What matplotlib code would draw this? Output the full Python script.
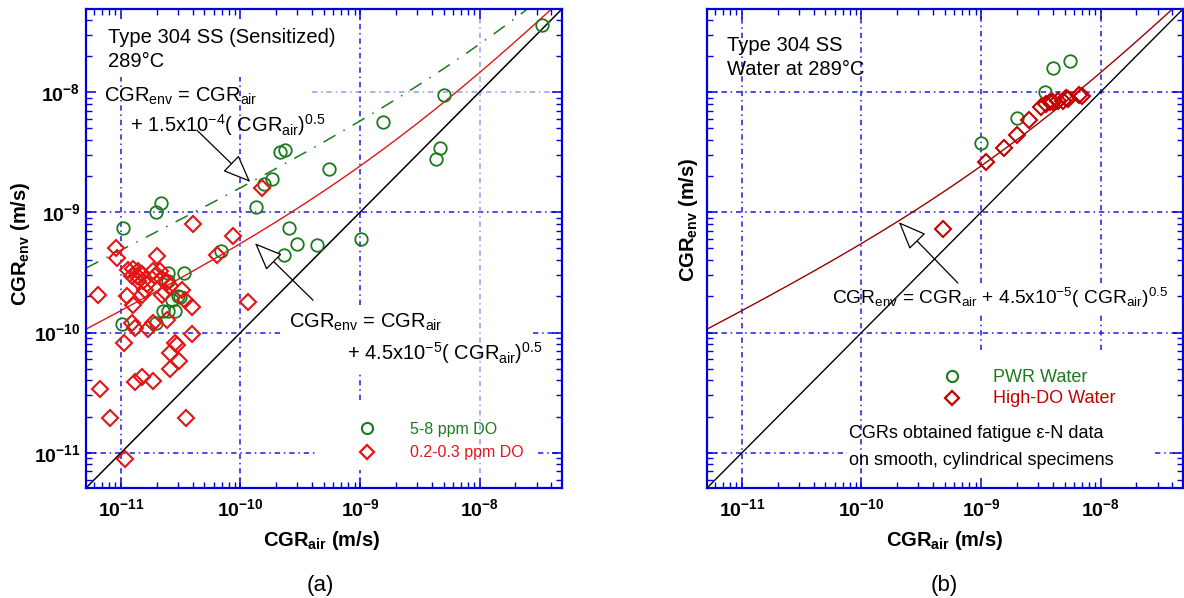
import numpy as np
import matplotlib
matplotlib.use("Agg")
import matplotlib.pyplot as plt
from matplotlib.ticker import FixedLocator, FixedFormatter, LogLocator, NullFormatter

plt.rcParams['font.family'] = ['Liberation Sans', 'DejaVu Sans']
plt.rcParams['mathtext.fontset'] = 'custom'
plt.rcParams['mathtext.rm'] = 'Liberation Sans'
plt.rcParams['mathtext.it'] = 'Liberation Sans:italic'
plt.rcParams['mathtext.bf'] = 'Liberation Sans:bold'

# ---------------- data ----------------
# (a) Type 304 SS (Sensitized), 289C
do58_air = [3.35e-8, 5.0e-9, 1.57e-9, 4.7e-9, 4.3e-9, 2.13e-10, 2.34e-10, 5.47e-10,
            1.82e-10, 1.57e-10, 1.34e-10, 2.53e-10, 2.95e-10, 4.34e-10, 2.3e-10, 1.01e-9,
            2.16e-11, 1.96e-11, 1.04e-11, 6.85e-11, 2.47e-11, 3.36e-11, 2.99e-11, 2.67e-11,
            2.24e-11, 2.47e-11, 2.83e-11, 1.96e-11, 1.02e-11, 2.47e-11, 3.11e-11]
do58_env = [3.6e-8, 9.4e-9, 5.6e-9, 3.4e-9, 2.77e-9, 3.2e-9, 3.3e-9, 2.28e-9,
            1.88e-9, 1.71e-9, 1.1e-9, 7.35e-10, 5.5e-10, 5.3e-10, 4.38e-10, 5.96e-10,
            1.19e-9, 1.0e-9, 7.35e-10, 4.73e-10, 3.1e-10, 3.1e-10, 2.0e-10, 1.88e-10,
            1.5e-10, 1.5e-10, 1.5e-10, 1.21e-10, 1.17e-10, 2.66e-10, 1.96e-10]
do02_air = [1.51e-10, 8.6e-11, 4.0e-11, 6.34e-11, 9.1e-12, 9.2e-12, 2.0e-11, 6.4e-12,
            1.12e-11, 1.26e-11, 1.14e-11, 1.26e-11, 1.39e-11, 1.24e-11, 1.36e-11, 1.5e-11,
            1.53e-11, 1.39e-11, 1.65e-11, 1.59e-11, 1.5e-11, 1.85e-11, 1.92e-11, 2.12e-11,
            2.2e-11, 2.42e-11, 2.57e-11, 2.33e-11, 2.2e-11, 3.23e-11, 3.43e-11, 3.92e-11,
            1.24e-11, 1.31e-11, 1.68e-11, 1.85e-11, 2.42e-11, 3.92e-11, 1.06e-11, 2.83e-11,
            2.94e-11, 2.57e-11, 3.05e-11, 2.57e-11, 1.5e-11, 1.31e-11, 1.85e-11, 6.7e-12,
            8.1e-12, 3.49e-11, 1.08e-11, 1.15e-10]
do02_env = [1.58e-9, 6.3e-10, 7.94e-10, 4.38e-10, 5.0e-10, 4.14e-10, 4.3e-10, 2.07e-10,
            2.0e-10, 1.68e-10, 3.29e-10, 3.35e-10, 3.22e-10, 2.93e-10, 2.93e-10, 3.04e-10,
            2.66e-10, 2.66e-10, 2.51e-10, 2.28e-10, 2.07e-10, 3.22e-10, 2.93e-10, 3.22e-10,
            2.77e-10, 2.61e-10, 2.42e-10, 2.16e-10, 2.07e-10, 2.28e-10, 1.88e-10, 1.62e-10,
            1.21e-10, 1.1e-10, 1.08e-10, 1.21e-10, 1.28e-10, 9.8e-11, 8.25e-11, 8.25e-11,
            7.94e-11, 6.8e-11, 5.85e-11, 5.0e-11, 4.3e-11, 3.9e-11, 3.98e-11, 3.4e-11,
            1.96e-11, 1.96e-11, 8.9e-12, 1.81e-10]

# (b) Type 304 SS, water at 289C (fatigue e-N data)
pwr_air = [5.52e-9, 3.98e-9, 3.41e-9, 2.0e-9, 1.0e-9]
pwr_env = [1.81e-8, 1.58e-8, 1.0e-8, 6.07e-9, 3.76e-9]
hdo_air = [4.82e-10, 1.1e-9, 1.55e-9, 2.0e-9, 2.51e-9, 3.16e-9, 3.48e-9, 3.76e-9,
           3.98e-9, 4.38e-9, 4.82e-9, 5.1e-9, 5.3e-9, 6.56e-9, 6.95e-9]
hdo_env = [7.2e-10, 2.61e-9, 3.42e-9, 4.38e-9, 5.84e-9, 7.5e-9, 7.94e-9, 8.25e-9,
           8.25e-9, 8.4e-9, 8.5e-9, 8.9e-9, 8.75e-9, 9.44e-9, 9.26e-9]

coef_high = 1.5e-4
coef_low = 4.5e-5
decades = [1e-11, 1e-10, 1e-9, 1e-8]
decade_labels = [r'$\mathbf{10^{-11}}$', r'$\mathbf{10^{-10}}$', r'$\mathbf{10^{-9}}$', r'$\mathbf{10^{-8}}$']
lims = (5.1e-12, 4.9e-8)

# ---------------- styles ----------------
BLUE = '#0000dd'
GRID = '#1a1aee'
LGRID = '#9a9aee'
GREEN = '#1b7a1b'
RED = '#e31515'
DRED = '#c40000'

fig = plt.figure(figsize=(11.84, 5.98), dpi=100)
W, H = 1184, 598
axA = fig.add_axes([86 / W, (598 - 488) / H, 476 / W, 479 / H])
axB = fig.add_axes([707 / W, (598 - 488) / H, 476 / W, 479 / H])


def style_axes(ax, ylabels=True):
    ax.set_xscale('log')
    ax.set_yscale('log')
    ax.set_xlim(*lims)
    ax.set_ylim(*lims)
    for sp in ax.spines.values():
        sp.set_color(BLUE)
        sp.set_linewidth(1.6)
    for axis in (ax.xaxis, ax.yaxis):
        axis.set_major_locator(FixedLocator(decades))
        axis.set_major_formatter(FixedFormatter(decade_labels))
        axis.set_minor_locator(LogLocator(base=10, subs=np.arange(2, 10)))
        axis.set_minor_formatter(NullFormatter())
    ax.tick_params(which='both', direction='in', top=True, right=True, color=BLUE)
    ax.tick_params(which='major', length=7, width=1.1)
    ax.tick_params(which='minor', length=4.5, width=1.0)
    ax.tick_params(axis='x', which='major', labelsize=14, pad=7)
    ax.tick_params(axis='y', which='major', labelsize=14, pad=4, labelleft=ylabels)
    ax.set_xlabel(r'CGR$_{\mathbf{air}}$ (m/s)', fontsize=14.5, fontweight='bold')
    ax.set_ylabel(r'CGR$_{\mathbf{env}}$ (m/s)', fontsize=14.5, fontweight='bold')


def gridlines(ax, hsegs, vsegs):
    kw = dict(linestyle=(0, (3.5, 2.5, 1, 2.5)), linewidth=1.1, zorder=1)
    for val, segs, col in hsegs:
        for a, b in segs:
            ax.axhline(val, xmin=a, xmax=b, color=col, **kw)
    for val, segs, col in vsegs:
        for a, b in segs:
            ax.axvline(val, ymin=a, ymax=b, color=col, **kw)


style_axes(axA, True)
style_axes(axB, False)
axA.xaxis.set_label_coords(0.496, -0.085)
axB.xaxis.set_label_coords(0.50, -0.085)
axA.yaxis.set_label_coords(-0.113, 0.51)
axB.yaxis.set_label_coords(-0.015, 0.56)

# grids (a)
gridlines(axA,
          [(1e-8, [(0.475, 1)], LGRID), (1e-9, [(0, 1)], GRID),
           (1e-10, [(0, 0.412), (0.939, 1)], GRID), (1e-11, [(0, 0.481), (0.95, 1)], GRID)],
          [(1e-11, [(0, 0.858)], GRID), (1e-10, [(0, 0.858)], GRID),
           (1e-9, [(0.382, 1), (0.184, 0.242), (0, 0.038)], GRID), (1e-8, [(0, 1)], LGRID)])
# grids (b)
gridlines(axB,
          [(1e-8, [(0, 1)], GRID), (1e-9, [(0, 1)], GRID),
           (1e-10, [(0, 1)], GRID), (1e-11, [(0, 0.294), (0.941, 1)], GRID)],
          [(1e-11, [(0, 1)], GRID), (1e-10, [(0, 1)], GRID),
           (1e-9, [(0.428, 1), (0.288, 0.365)], GRID), (1e-8, [(0.428, 1), (0.288, 0.365)], GRID)])

xx = np.logspace(np.log10(lims[0]), np.log10(lims[1]), 400)

# (a) curves
axA.plot(xx, xx, color='black', lw=1.1, zorder=2)
axA.plot(xx, xx + coef_low * np.sqrt(xx), color=RED, lw=1.0, zorder=2)
axA.plot(xx, xx + coef_high * np.sqrt(xx), color=GREEN, lw=1.1,
         linestyle=(0, (9, 6, 1, 6)), zorder=2)
axA.plot(do58_air, do58_env, 'o', ms=9, mfc='none', mec=GREEN, mew=1.3, ls='none', zorder=3)
axA.plot(do02_air, do02_env, 'D', ms=8, mfc='none', mec=RED, mew=1.5, ls='none', zorder=3)

# (b) curves
axB.plot(xx, xx, color='black', lw=1.0, zorder=2)
axB.plot(xx, xx + coef_low * np.sqrt(xx), color='#9a0000', lw=1.0, zorder=2)
axB.plot(pwr_air, pwr_env, 'o', ms=9, mfc='none', mec=GREEN, mew=1.3, ls='none', zorder=3)
axB.plot(hdo_air, hdo_env, 'D', ms=8, mfc='none', mec=DRED, mew=1.5, ls='none', zorder=3)

# text (a)
tA = axA.transAxes
axA.text(0.046, 0.929, 'Type 304 SS (Sensitized)', transform=tA, fontsize=14.5)
axA.text(0.046, 0.879, '289°C', transform=tA, fontsize=14.5)
axA.text(0.038, 0.806, r'CGR$_{\mathrm{env}}$ = CGR$_{\mathrm{air}}$', transform=tA, fontsize=14.5)
axA.text(0.092, 0.743, r'+ 1.5x10$^{-4}$( CGR$_{\mathrm{air}}$)$^{0.5}$', transform=tA, fontsize=14.5)
axA.text(0.426, 0.334, r'CGR$_{\mathrm{env}}$ = CGR$_{\mathrm{air}}$', transform=tA, fontsize=14.5)
axA.text(0.548, 0.267, r'+ 4.5x10$^{-5}$( CGR$_{\mathrm{air}}$)$^{0.5}$', transform=tA, fontsize=14.5)
axA.plot([0.590], [0.125], 'o', ms=8, mfc='none', mec=GREEN, mew=1.5, transform=tA, clip_on=False)
axA.plot([0.590], [0.075], 'D', ms=7.5, mfc='none', mec=RED, mew=1.6, transform=tA, clip_on=False)
axA.text(0.681, 0.113, '5-8 ppm DO', transform=tA, fontsize=11.5, color=GREEN)
axA.text(0.681, 0.065, '0.2-0.3 ppm DO', transform=tA, fontsize=11.5, color=RED)

arrow_kw = dict(arrowstyle='-|>,head_length=1.1,head_width=0.45', fc='white', ec='black',
                lw=0.9, mutation_scale=16, shrinkA=0, shrinkB=0)
axA.annotate('', xy=(0.345, 0.639), xytext=(0.233, 0.747), xycoords=tA, textcoords=tA,
             arrowprops=arrow_kw)
axA.annotate('', xy=(0.355, 0.511), xytext=(0.477, 0.392), xycoords=tA, textcoords=tA,
             arrowprops=arrow_kw)

# text (b)
tB = axB.transAxes
axB.text(0.042, 0.912, 'Type 304 SS', transform=tB, fontsize=14.5)
axB.text(0.042, 0.862, 'Water at 289°C', transform=tB, fontsize=14.5)
axB.text(0.263, 0.384, r'CGR$_{\mathrm{env}}$ = CGR$_{\mathrm{air}}$ + 4.5x10$^{-5}$( CGR$_{\mathrm{air}}$)$^{0.5}$',
         transform=tB, fontsize=13.8)
axB.plot([0.515], [0.234], 'o', ms=8, mfc='none', mec=GREEN, mew=1.5, transform=tB, clip_on=False)
axB.plot([0.515], [0.188], 'D', ms=7.5, mfc='none', mec=DRED, mew=1.6, transform=tB, clip_on=False)
axB.text(0.601, 0.221, 'PWR Water', transform=tB, fontsize=13, color=GREEN)
axB.text(0.601, 0.177, 'High-DO Water', transform=tB, fontsize=13, color=DRED)
axB.text(0.298, 0.104, 'CGRs obtained fatigue ε-N data', transform=tB, fontsize=13)
axB.text(0.298, 0.048, 'on smooth, cylindrical specimens', transform=tB, fontsize=13)
axB.annotate('', xy=(0.403, 0.555), xytext=(0.527, 0.428), xycoords=tB, textcoords=tB,
             arrowprops=arrow_kw)

fig.text(320 / W, (598 - 585) / H, '(a)', fontsize=16, ha='center', va='center')
fig.text(944 / W, (598 - 585) / H, '(b)', fontsize=16, ha='center', va='center')

fig.savefig('out.png', dpi=100)
